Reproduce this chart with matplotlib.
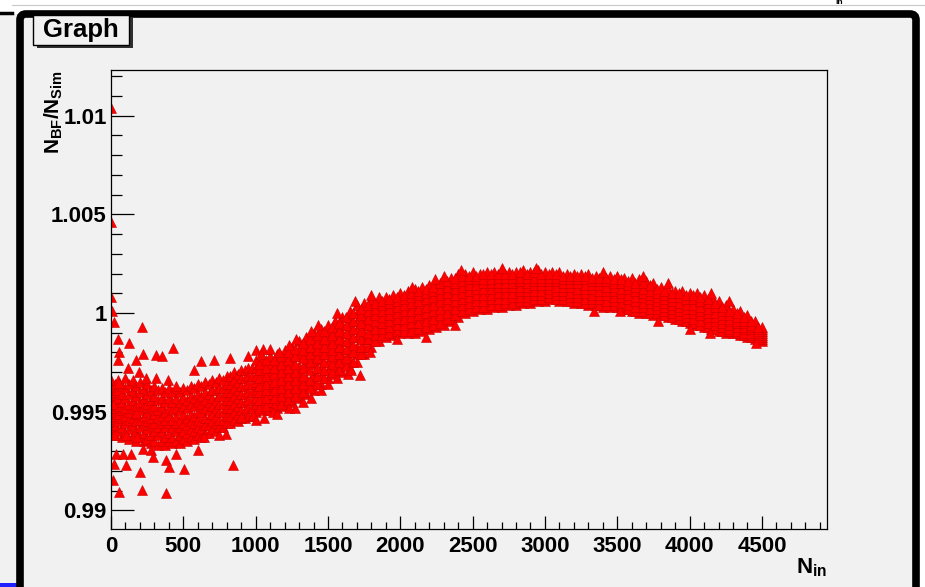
import numpy as np
import matplotlib
matplotlib.use("Agg")
import matplotlib.pyplot as plt
from matplotlib.patches import Rectangle, FancyBboxPatch
from matplotlib.ticker import MultipleLocator, FixedLocator, FixedFormatter

plt.rcParams['font.family'] = ['Liberation Sans', 'DejaVu Sans']
plt.rcParams['font.weight'] = 'bold'
plt.rcParams['mathtext.fontset'] = 'custom'
plt.rcParams['mathtext.rm'] = 'Liberation Sans:bold'
plt.rcParams['mathtext.it'] = 'Liberation Sans:bold'
plt.rcParams['mathtext.bf'] = 'Liberation Sans:bold'

# ---------------- data ----------------
# isolated / scattered points
scatter_x = [0, 0, 2, 4, 18, 212, 46, 127, 426, 57, 219, 311, 350, 46, 173, 115, 196, 242,
             57, 311, 392, 450, 623, 715, 823, 1049, 577, 11, 173, 18, 104, 177, 219, 277,
             35, 80, 138, 288, 381, 23, 104, 403, 203, 11, 57, 212, 381, 842, 507, 599,
             450, 1234, 1118, 980, 900, 796, 750, 646]
scatter_y = [1.0104, 1.0046, 1.0008, 1.0001, 0.99956, 0.99930, 0.99866, 0.99849, 0.99821,
             0.99803, 0.99792, 0.99787, 0.99782, 0.99761, 0.99761, 0.99719, 0.99702, 0.99668,
             0.99643, 0.99668, 0.99660, 0.99629, 0.99756, 0.99761, 0.99770, 0.99816, 0.99710,
             0.99541, 0.99492, 0.99380, 0.99380, 0.99372, 0.99313, 0.99304, 0.99287, 0.99284,
             0.99287, 0.99270, 0.99253, 0.99236, 0.99228, 0.99219, 0.99194, 0.99152, 0.99092,
             0.99101, 0.99087, 0.99228, 0.99211, 0.99304, 0.99287, 0.99516, 0.99499, 0.99482,
             0.99473, 0.99389, 0.99380, 0.99372]

# points sticking out of the band edges
edge_x = [1560, 1690, 1800, 2080, 2240, 2300, 2420, 2700, 2940, 3400, 3680, 3850, 4150, 4270,
          1330, 1560, 1718, 1790, 1975, 2180, 2380, 3340, 3520, 3780, 4000, 4140, 4460,
          950, 1000, 1040, 1100, 1160, 1230, 1280, 1380, 1430,
          1000, 1060, 1150, 1270, 1380, 1450, 1500, 1640, 1660]
edge_y = [1.0000, 1.0006, 1.0009, 1.0013, 1.0017, 1.0019, 1.0022, 1.0023, 1.0023, 1.0021,
          1.0019, 1.0015, 1.0010, 1.0006,
          0.9955, 0.9967, 0.99685, 0.9980, 0.9987, 0.9988, 0.9994, 1.0001, 1.0001, 0.9996,
          0.9992, 0.9990, 0.9985,
          0.9978, 0.9981, 0.9979, 0.9982, 0.9980, 0.9984, 0.9987, 0.9991, 0.9994,
          0.9946, 0.9947, 0.9949, 0.9952, 0.9957, 0.9961, 0.9964, 0.9969, 0.9971]

# dense core at low N_in (0..975, every 25)
core_n = list(range(0, 1000, 25))
core_y = [
    [.9941, .9946, .9950, .9954, .9958, .9962, .9966],
    [.9938, .9943, .9948, .9952, .9956, .9960, .9964],
    [.9940, .9945, .9949, .9953, .9957, .9961, .9966],
    [.9937, .9942, .9947, .9951, .9955, .9959, .9963],
    [.9939, .9944, .9948, .9952, .9957, .9962, .9967],
    [.9936, .9941, .9946, .9950, .9954, .9959, .9964],
    [.9938, .9943, .9947, .9952, .9956, .9961, .9966],
    [.9935, .9940, .9945, .9949, .9953, .9958, .9963],
    [.9937, .9942, .9946, .9951, .9955, .9960, .9965],
    [.9935, .9939, .9944, .9948, .9953, .9957, .9962],
    [.9936, .9941, .9945, .9950, .9954, .9959, .9964],
    [.9934, .9938, .9943, .9947, .9952, .9956, .9961],
    [.9935, .9940, .9944, .9949, .9953, .9958, .9963],
    [.9933, .9938, .9942, .9947, .9951, .9956, .9961],
    [.9935, .9940, .9944, .9948, .9953, .9957, .9962],
    [.9933, .9937, .9942, .9946, .9950, .9955, .9960],
    [.9935, .9939, .9944, .9948, .9952, .9957, .9962],
    [.9934, .9937, .9942, .9946, .9951, .9955, .9960],
    [.9935, .9940, .9944, .9948, .9952, .9957, .9962],
    [.9934, .9938, .9942, .9946, .9951, .9955, .9960],
    [.9936, .9940, .9944, .9949, .9953, .9957, .9962],
    [.9935, .9939, .9943, .9947, .9952, .9956, .9961],
    [.9937, .9941, .9945, .9949, .9954, .9958, .9963],
    [.9936, .9940, .9944, .9948, .9953, .9957, .9962],
    [.9938, .9942, .9946, .9950, .9955, .9959, .9964],
    [.9937, .9941, .9945, .9950, .9954, .9958, .9963],
    [.9939, .9943, .9947, .9952, .9956, .9960, .9965],
    [.9939, .9943, .9947, .9951, .9955, .9959, .9964],
    [.9941, .9945, .9949, .9953, .9957, .9961, .9966],
    [.9940, .9944, .9948, .9952, .9956, .9961, .9965],
    [.9942, .9946, .9950, .9954, .9958, .9962, .9967],
    [.9942, .9946, .9950, .9954, .9958, .9962, .9966],
    [.9944, .9948, .9952, .9956, .9960, .9964, .9968],
    [.9944, .9948, .9952, .9956, .9960, .9964, .9968],
    [.9946, .9950, .9954, .9958, .9962, .9966, .9970],
    [.9945, .9949, .9953, .9957, .9961, .9965, .9969],
    [.9947, .9951, .9955, .9959, .9963, .9967, .9971],
    [.9947, .9951, .9955, .9959, .9963, .9967, .9971],
    [.9948, .9952, .9956, .9960, .9964, .9968, .9972],
    [.9948, .9952, .9956, .9960, .9964, .9968, .9972],
]

# main band, columns at 1000, 1050, ..., 4500
band_n = list(range(1000, 4501, 50))
band_y = [
    [.9950, .9954, .9957, .9961, .9965, .9968, .9972, .9976],
    [.9951, .9955, .9958, .9962, .9966, .9970, .9973, .9977],
    [.9951, .9955, .9959, .9963, .9966, .9970, .9974, .9978],
    [.9952, .9956, .9960, .9964, .9967, .9971, .9975, .9979],
    [.9953, .9957, .9961, .9965, .9969, .9973, .9977, .9981],
    [.9955, .9959, .9963, .9967, .9971, .9975, .9979, .9983],
    [.9957, .9961, .9965, .9969, .9973, .9978, .9982, .9986],
    [.9959, .9963, .9967, .9972, .9976, .9980, .9984, .9988],
    [.9961, .9965, .9969, .9974, .9978, .9982, .9986, .9990],
    [.9964, .9968, .9972, .9976, .9980, .9984, .9988, .9992],
    [.9967, .9971, .9975, .9979, .9982, .9986, .9990, .9994],
    [.9969, .9973, .9977, .9981, .9984, .9988, .9992, .9996],
    [.9970, .9974, .9978, .9982, .9986, .9990, .9994, .9998],
    [.9972, .9976, .9980, .9985, .9989, .9993, .9997, 1.0001],
    [.9975, .9979, .9983, .9988, .9992, .9996, 1.0000, 1.0004],
    [.9979, .9983, .9987, .9990, .9994, .9998, 1.0002, 1.0005],
    [.9983, .9986, .9990, .9993, .9997, 1.0000, 1.0004, 1.0007],
    [.9986, .9989, .9992, .9995, .9999, 1.0002, 1.0005, 1.0008],
    [.9988, .9991, .9994, .9997, 1.0000, 1.0003, 1.0006, 1.0008],
    [.9989, .9992, .9995, .9998, 1.0001, 1.0004, 1.0007, 1.0009],
    [.9990, .9993, .9996, .9999, 1.0002, 1.0005, 1.0008, 1.0010],
    [.9990, .9993, .9996, .9999, 1.0003, 1.0006, 1.0009, 1.0011],
    [.9990, .9993, .9997, 1.0000, 1.0004, 1.0007, 1.0010, 1.0012],
    [.9991, .9994, .9998, 1.0001, 1.0005, 1.0008, 1.0011, 1.0013],
    [.9992, .9995, .9999, 1.0002, 1.0006, 1.0009, 1.0012, 1.0014],
    [.9993, .9996, 1.0000, 1.0003, 1.0007, 1.0010, 1.0013, 1.0015],
    [.9994, .9997, 1.0001, 1.0005, 1.0008, 1.0011, 1.0014, 1.0017],
    [.9996, .9999, 1.0003, 1.0006, 1.0009, 1.0012, 1.0015, 1.0018],
    [.9998, 1.0001, 1.0005, 1.0008, 1.0011, 1.0014, 1.0017, 1.0020],
    [1.0000, 1.0003, 1.0006, 1.0009, 1.0012, 1.0015, 1.0018, 1.0020],
    [1.0001, 1.0004, 1.0007, 1.0010, 1.0013, 1.0016, 1.0019, 1.0021],
    [1.0002, 1.0005, 1.0008, 1.0011, 1.0013, 1.0016, 1.0018, 1.0020],
    [1.0002, 1.0005, 1.0008, 1.0011, 1.0014, 1.0016, 1.0019, 1.0021],
    [1.0003, 1.0006, 1.0008, 1.0011, 1.0014, 1.0016, 1.0019, 1.0021],
    [1.0003, 1.0006, 1.0009, 1.0012, 1.0014, 1.0017, 1.0019, 1.0022],
    [1.0004, 1.0006, 1.0009, 1.0012, 1.0014, 1.0016, 1.0019, 1.0021],
    [1.0004, 1.0007, 1.0009, 1.0012, 1.0014, 1.0017, 1.0019, 1.0021],
    [1.0005, 1.0007, 1.0010, 1.0012, 1.0015, 1.0017, 1.0020, 1.0022],
    [1.0005, 1.0007, 1.0010, 1.0012, 1.0014, 1.0017, 1.0019, 1.0021],
    [1.0006, 1.0008, 1.0010, 1.0013, 1.0015, 1.0017, 1.0020, 1.0022],
    [1.0006, 1.0008, 1.0010, 1.0013, 1.0015, 1.0017, 1.0019, 1.0021],
    [1.0007, 1.0009, 1.0011, 1.0013, 1.0015, 1.0017, 1.0019, 1.0021],
    [1.0006, 1.0008, 1.0010, 1.0012, 1.0015, 1.0017, 1.0019, 1.0021],
    [1.0006, 1.0008, 1.0010, 1.0012, 1.0014, 1.0016, 1.0018, 1.0020],
    [1.0005, 1.0007, 1.0009, 1.0012, 1.0014, 1.0016, 1.0018, 1.0020],
    [1.0005, 1.0007, 1.0009, 1.0011, 1.0014, 1.0016, 1.0018, 1.0020],
    [1.0004, 1.0006, 1.0009, 1.0011, 1.0013, 1.0016, 1.0018, 1.0020],
    [1.0004, 1.0006, 1.0008, 1.0011, 1.0013, 1.0015, 1.0017, 1.0019],
    [1.0003, 1.0006, 1.0008, 1.0010, 1.0013, 1.0015, 1.0017, 1.0020],
    [1.0003, 1.0005, 1.0008, 1.0010, 1.0012, 1.0015, 1.0017, 1.0019],
    [1.0003, 1.0005, 1.0007, 1.0010, 1.0012, 1.0014, 1.0016, 1.0019],
    [1.0002, 1.0004, 1.0007, 1.0009, 1.0011, 1.0014, 1.0016, 1.0018],
    [1.0001, 1.0003, 1.0006, 1.0008, 1.0011, 1.0013, 1.0015, 1.0018],
    [1.0000, 1.0002, 1.0005, 1.0007, 1.0010, 1.0012, 1.0014, 1.0017],
    [1.0000, 1.0002, 1.0004, 1.0007, 1.0009, 1.0011, 1.0014, 1.0016],
    [.9999, 1.0001, 1.0004, 1.0006, 1.0008, 1.0010, 1.0013, 1.0015],
    [.9999, 1.0001, 1.0003, 1.0005, 1.0007, 1.0009, 1.0011, 1.0013],
    [.9998, 1.0000, 1.0002, 1.0004, 1.0006, 1.0008, 1.0010, 1.0012],
    [.9997, .9999, 1.0001, 1.0003, 1.0005, 1.0007, 1.0009, 1.0011],
    [.9996, .9998, 1.0000, 1.0002, 1.0004, 1.0006, 1.0009, 1.0011],
    [.9995, .9997, .9999, 1.0001, 1.0003, 1.0005, 1.0008, 1.0010],
    [.9994, .9996, .9998, 1.0001, 1.0003, 1.0005, 1.0008, 1.0010],
    [.9993, .9995, .9997, 1.0000, 1.0002, 1.0004, 1.0007, 1.0009],
    [.9992, .9994, .9996, .9999, 1.0001, 1.0003, 1.0006, 1.0008],
    [.9991, .9993, .9995, .9997, .9999, 1.0001, 1.0004, 1.0006],
    [.9990, .9992, .9994, .9996, .9998, .9999, 1.0002, 1.0004],
    [.9990, .9991, .9993, .9995, .9996, .9998, 1.0000, 1.0002],
    [.9989, .9990, .9992, .9994, .9995, .9997, .9999, 1.0001],
    [.9988, .9989, .9991, .9992, .9994, .9995, .9997, .9999],
    [.9987, .9988, .9989, .9991, .9992, .9993, .9995, .9996],
    [.9986, .9987, .9988, .9989, .9990, .9991, .9992, .9993],
]

# main band, columns at 1025, 1075, ..., 4475
band2_n = list(range(1025, 4476, 50))
band2_y = [
    [.9952, .9956, .9960, .9963, .9967, .9971, .9974],
    [.9953, .9957, .9961, .9964, .9968, .9972, .9976],
    [.9953, .9957, .9961, .9965, .9969, .9972, .9976],
    [.9954, .9958, .9962, .9966, .9970, .9974, .9978],
    [.9956, .9960, .9964, .9968, .9972, .9976, .9980],
    [.9958, .9962, .9966, .9970, .9974, .9978, .9982],
    [.9960, .9964, .9968, .9972, .9977, .9981, .9985],
    [.9962, .9966, .9971, .9975, .9979, .9983, .9987],
    [.9964, .9968, .9972, .9977, .9981, .9985, .9989],
    [.9967, .9971, .9975, .9979, .9983, .9987, .9991],
    [.9970, .9974, .9978, .9981, .9985, .9989, .9993],
    [.9971, .9975, .9979, .9983, .9987, .9991, .9995],
    [.9973, .9977, .9982, .9986, .9990, .9994, .9998],
    [.9975, .9980, .9984, .9988, .9992, .9996, 1.0000],
    [.9979, .9983, .9987, .9991, .9995, .9999, 1.0002],
    [.9983, .9987, .9990, .9994, .9997, 1.0001, 1.0004],
    [.9986, .9989, .9992, .9996, .9999, 1.0002, 1.0005],
    [.9989, .9992, .9995, .9998, 1.0001, 1.0004, 1.0006],
    [.9990, .9993, .9996, .9999, 1.0002, 1.0005, 1.0007],
    [.9991, .9994, .9997, 1.0000, 1.0003, 1.0006, 1.0008],
    [.9991, .9994, .9997, 1.0001, 1.0004, 1.0007, 1.0009],
    [.9991, .9995, .9998, 1.0001, 1.0005, 1.0008, 1.0010],
    [.9992, .9995, .9999, 1.0002, 1.0006, 1.0009, 1.0011],
    [.9993, .9996, 1.0000, 1.0003, 1.0007, 1.0010, 1.0012],
    [.9994, .9997, 1.0001, 1.0004, 1.0008, 1.0011, 1.0013],
    [.9995, .9999, 1.0002, 1.0006, 1.0009, 1.0012, 1.0015],
    [.9997, 1.0000, 1.0004, 1.0007, 1.0010, 1.0013, 1.0016],
    [.9999, 1.0002, 1.0006, 1.0009, 1.0012, 1.0015, 1.0018],
    [1.0001, 1.0004, 1.0007, 1.0010, 1.0013, 1.0016, 1.0019],
    [1.0002, 1.0005, 1.0008, 1.0011, 1.0014, 1.0017, 1.0019],
    [1.0003, 1.0006, 1.0009, 1.0012, 1.0014, 1.0017, 1.0019],
    [1.0003, 1.0006, 1.0009, 1.0012, 1.0015, 1.0017, 1.0020],
    [1.0004, 1.0007, 1.0009, 1.0012, 1.0015, 1.0017, 1.0020],
    [1.0004, 1.0007, 1.0010, 1.0013, 1.0015, 1.0018, 1.0020],
    [1.0005, 1.0007, 1.0010, 1.0013, 1.0015, 1.0018, 1.0020],
    [1.0005, 1.0008, 1.0010, 1.0013, 1.0015, 1.0018, 1.0020],
    [1.0006, 1.0008, 1.0011, 1.0013, 1.0016, 1.0018, 1.0021],
    [1.0006, 1.0008, 1.0011, 1.0013, 1.0015, 1.0018, 1.0020],
    [1.0007, 1.0009, 1.0011, 1.0014, 1.0016, 1.0018, 1.0021],
    [1.0007, 1.0009, 1.0011, 1.0014, 1.0016, 1.0018, 1.0020],
    [1.0008, 1.0010, 1.0012, 1.0014, 1.0016, 1.0018, 1.0020],
    [1.0007, 1.0009, 1.0011, 1.0013, 1.0016, 1.0018, 1.0020],
    [1.0007, 1.0009, 1.0011, 1.0013, 1.0015, 1.0017, 1.0019],
    [1.0006, 1.0008, 1.0010, 1.0013, 1.0015, 1.0017, 1.0019],
    [1.0006, 1.0008, 1.0010, 1.0012, 1.0015, 1.0017, 1.0019],
    [1.0005, 1.0007, 1.0010, 1.0012, 1.0014, 1.0017, 1.0019],
    [1.0005, 1.0007, 1.0009, 1.0012, 1.0014, 1.0016, 1.0018],
    [1.0004, 1.0007, 1.0009, 1.0011, 1.0014, 1.0016, 1.0018],
    [1.0004, 1.0006, 1.0009, 1.0011, 1.0013, 1.0016, 1.0018],
    [1.0004, 1.0006, 1.0008, 1.0011, 1.0013, 1.0015, 1.0017],
    [1.0003, 1.0005, 1.0008, 1.0010, 1.0012, 1.0015, 1.0017],
    [1.0002, 1.0004, 1.0007, 1.0009, 1.0012, 1.0014, 1.0016],
    [1.0001, 1.0003, 1.0006, 1.0008, 1.0011, 1.0013, 1.0015],
    [1.0001, 1.0003, 1.0005, 1.0008, 1.0010, 1.0012, 1.0015],
    [1.0000, 1.0002, 1.0005, 1.0007, 1.0009, 1.0011, 1.0014],
    [1.0000, 1.0002, 1.0004, 1.0006, 1.0008, 1.0010, 1.0012],
    [.9999, 1.0001, 1.0003, 1.0005, 1.0007, 1.0009, 1.0011],
    [.9998, 1.0000, 1.0002, 1.0004, 1.0006, 1.0008, 1.0010],
    [.9997, .9999, 1.0001, 1.0003, 1.0005, 1.0008, 1.0010],
    [.9996, .9998, 1.0000, 1.0002, 1.0004, 1.0007, 1.0009],
    [.9995, .9997, 1.0000, 1.0002, 1.0004, 1.0007, 1.0009],
    [.9994, .9996, .9999, 1.0001, 1.0003, 1.0006, 1.0008],
    [.9993, .9995, .9998, 1.0000, 1.0002, 1.0005, 1.0007],
    [.9992, .9994, .9996, .9998, 1.0000, 1.0003, 1.0005],
    [.9991, .9993, .9995, .9997, .9999, 1.0001, 1.0003],
    [.9991, .9992, .9994, .9996, .9997, .9999, 1.0001],
    [.9990, .9991, .9993, .9995, .9996, .9998, 1.0000],
    [.9989, .9990, .9992, .9993, .9995, .9996, .9998],
    [.9988, .9989, .9990, .9992, .9993, .9994, .9996],
    [.9987, .9988, .9989, .9990, .9991, .9992, .9993],
]

x_ticks = [0, 500, 1000, 1500, 2000, 2500, 3000, 3500, 4000, 4500]
y_ticks = [0.99, 0.995, 1.0, 1.005, 1.01]
y_tick_labels = ["0.99", "0.995", "1", "1.005", "1.01"]
title_text = "Graph"
x_label = r"$N_{in}$"
y_label = r"$N_{BF}/N_{Sim}$"

# flatten all groups into one graph
xs, ys = [], []
for ns, yy in ((core_n, core_y), (band_n, band_y), (band2_n, band2_y)):
    for n, vals in zip(ns, yy):
        for v in vals:
            xs.append(n)
            ys.append(v)
xs += scatter_x + edge_x
ys += scatter_y + edge_y

# ---------------- figure ----------------
W, H = 925, 587
fig = plt.figure(figsize=(W / 100, H / 100), dpi=100, facecolor="white")

bg = fig.add_axes([0, 0, 1, 1], zorder=0)
bg.set_xlim(0, W)
bg.set_ylim(H, 0)
bg.axis("off")
canvas_col = "#f1f1f1"
bg.add_patch(Rectangle((0, 14), 18, H - 14, facecolor=canvas_col, edgecolor="none"))
bg.add_patch(Rectangle((0, 583), 17, 4, facecolor="#2020ff", edgecolor="none"))
bg.plot([0, 12], [13, 13], color="black", lw=2.5)
bg.plot([12, W], [5, 5], color="#c8c8c8", lw=0.8)
frame = FancyBboxPatch((20, 14), 896, H + 10, boxstyle="round,pad=0,rounding_size=6",
                       facecolor=canvas_col, edgecolor="black", linewidth=5.5)
bg.add_patch(frame)
bg.text(835, 3, "in", fontsize=6, fontweight="bold", va="center", ha="left")

# title box with shadow
bg.add_patch(Rectangle((37, 18), 96, 30, facecolor="#303030", edgecolor="none"))
bg.add_patch(Rectangle((33, 15), 96, 30, facecolor=canvas_col, edgecolor="black", linewidth=1.0))
bg.text(81, 30.5, title_text, fontsize=18.5, fontweight="bold", ha="center", va="center")

# main axes
L, R, T, B = 111, 827, 70, 529
ax = fig.add_axes([L / W, (H - B) / H, (R - L) / W, (B - T) / H], zorder=1)
ax.set_facecolor(canvas_col)
ax.plot(xs, ys, linestyle="none", marker="^", markersize=6.8,
        markerfacecolor="#ff0000", markeredgecolor="#c80000", markeredgewidth=0.4)

ax.set_xlim(0, 4950)
ax.set_ylim(0.98905, 1.01232)

ax.xaxis.set_major_locator(FixedLocator(x_ticks))
ax.xaxis.set_minor_locator(MultipleLocator(100))
ax.yaxis.set_major_locator(FixedLocator(y_ticks))
ax.yaxis.set_major_formatter(FixedFormatter(y_tick_labels))
ax.yaxis.set_minor_locator(MultipleLocator(0.001))

ax.tick_params(axis="both", which="both", direction="in", top=False, right=False,
               width=0.9, color="black")
ax.tick_params(axis="x", which="major", length=9.5, pad=5, labelsize=16)
ax.tick_params(axis="x", which="minor", length=5)
ax.tick_params(axis="y", which="major", length=16.5, pad=3, labelsize=16)
ax.tick_params(axis="y", which="minor", length=8)
for lbl in ax.get_xticklabels() + ax.get_yticklabels():
    lbl.set_fontweight("bold")
for s in ax.spines.values():
    s.set_linewidth(0.9)
    s.set_color("black")

# axis titles at the ends of the axes (ROOT style)
fig.text(R / W, 1 - 573 / H, x_label, fontsize=16, ha="right", va="baseline")
fig.text(54 / W, 1 - T / H, y_label, fontsize=15, ha="center", va="top", rotation=90)

fig.savefig("out.png", dpi=100, facecolor=fig.get_facecolor())
